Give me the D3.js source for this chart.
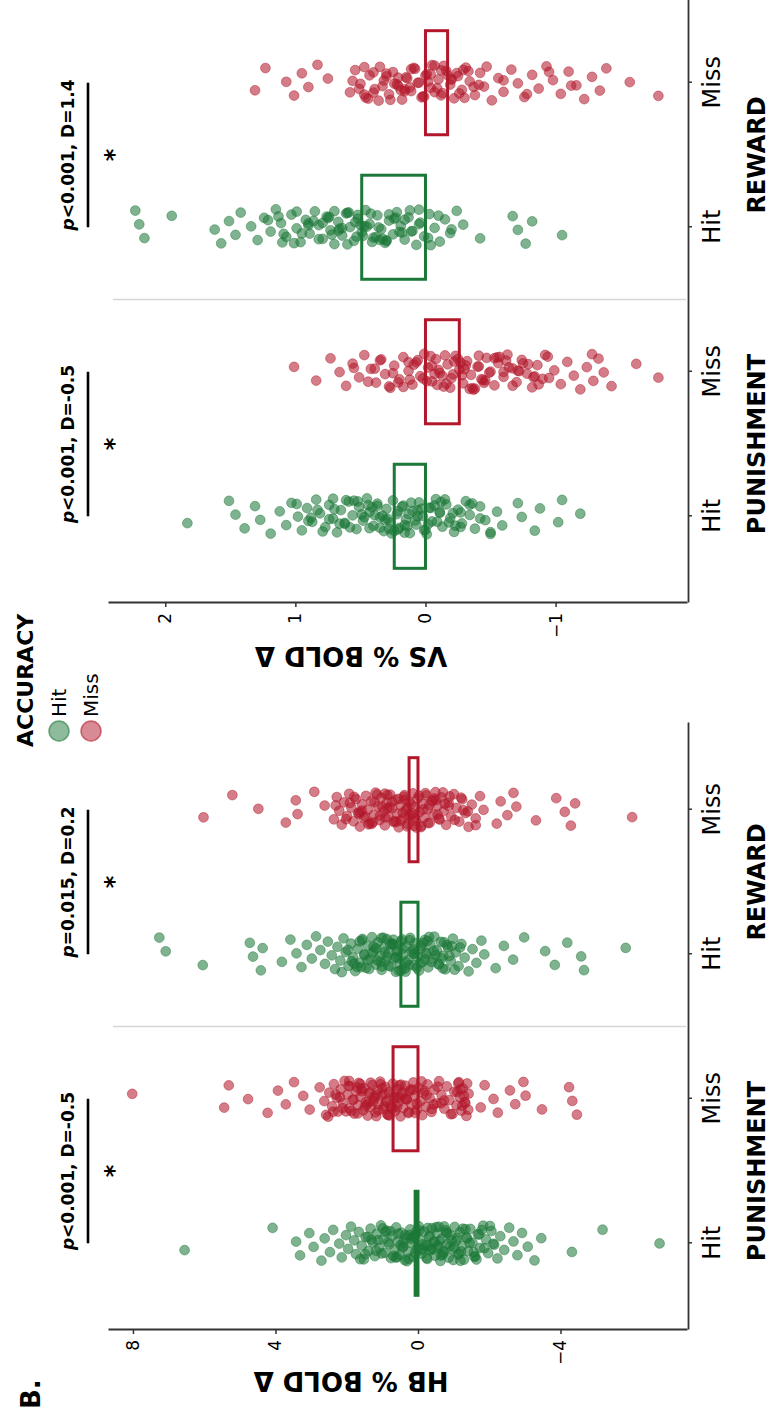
<!DOCTYPE html>
<html>
<head>
<meta charset="utf-8">
<script src="https://cdn.jsdelivr.net/npm/d3@7"></script>
<style>
  html, body { margin: 0; background: #fff; }
  svg { display: block; }
  text { font-family: "DejaVu Sans", sans-serif; fill: #000; }
</style>
</head>
<body>
<svg id="chart" width="771" height="1412"></svg>
<script>
// x categories: condition + accuracy
const conditions = ["PUNISHMENT", "REWARD"];
const accuracyLevels = ["Hit", "Miss"];
const groupKeys = ["PUNISHMENT|Hit", "PUNISHMENT|Miss", "REWARD|Hit", "REWARD|Miss"];

// HB % BOLD change, one value per dot
const hbPunishHit = [6.55, 4.08, 3.42, 3.31, 3.05, 2.93, 2.71, 2.62, 2.47, 2.38, 2.21, 2.14, 2.02, 1.96, 1.88, 1.79, 1.74, 1.66, 1.58, 1.52, 1.47, 1.39, 1.33, 1.27, 1.21, 1.16, 1.09, 1.04, 0.97, 0.93, 0.88, 0.81, 0.76, 0.72, 0.66, 0.61, 0.57, 0.52, 0.46, 0.41, 0.37, 0.33, 0.28, 0.22, 0.18, 0.13, 0.07, 0.03, -0.02, -0.06, -0.11, -0.17, -0.21, -0.26, -0.31, -0.34, -0.39, -0.44, -0.48, -0.53, -0.58, -0.63, -0.67, -0.72, -0.78, -0.83, -0.86, -0.92, -0.97, -1.03, -1.08, -1.12, -1.18, -1.24, -1.29, -1.36, -1.41, -1.47, -1.53, -1.61, -1.68, -1.74, -1.83, -1.91, -1.97, -2.06, -2.14, -2.23, -2.31, -2.42, -2.56, -2.68, -2.79, -2.92, -3.08, -3.27, -3.46, -4.32, -5.18, -6.78, 0.58, 0.24, -0.36, -0.74, 1.12, -1.15, 0.05, -0.55,
  1.62, 1.41, 1.18, 0.99, 0.84, 0.69, 0.55, 0.43, 0.31, 0.19, 0.08, -0.04, -0.14, -0.24, -0.33, -0.42, -0.51, -0.61, -0.69, -0.79, -0.89, -0.99, -1.1, -1.21, -1.33, -1.45, -1.58, -1.72, -1.86, -2.02, 1.31, 1.02, 0.77, 0.49, 0.26, 0.1, -0.08, -0.27, -0.46, -0.64, -0.82, -1.01, -1.19, -1.38, -1.57, -1.79, -2.11, 0.63, 0.36, -0.12, -0.58, -0.95, 1.48, 0.91, -0.29, -1.64, 0.15, -0.71, -1.26, 0.42];
const hbPunishMiss = [8.02, 5.44, 5.31, 4.77, 4.22, 3.93, 3.71, 3.48, 3.22, 3.04, 2.76, 2.63, 2.58, 2.49, 2.41, 2.36, 2.28, 2.24, 2.17, 2.11, 2.06, 1.98, 1.93, 1.91, 1.84, 1.79, 1.73, 1.68, 1.66, 1.61, 1.54, 1.52, 1.46, 1.41, 1.37, 1.32, 1.28, 1.23, 1.19, 1.14, 1.12, 1.06, 1.01, 0.97, 0.92, 0.88, 0.86, 0.81, 0.77, 0.71, 0.68, 0.64, 0.58, 0.55, 0.49, 0.46, 0.41, 0.36, 0.32, 0.27, 0.24, 0.18, 0.13, 0.09, 0.04, -0.02, -0.07, -0.12, -0.16, -0.22, -0.27, -0.33, -0.38, -0.46, -0.52, -0.59, -0.66, -0.74, -0.81, -0.88, -0.97, -1.02, -1.08, -1.13, -1.17, -1.22, -1.26, -1.31, -1.36, -1.42, -1.76, -1.87, -2.12, -2.24, -2.58, -2.73, -2.96, -3.02, -3.48, -4.24, -4.33, -4.46, 1.35, 0.95, 1.62, 0.52, 2.02, -1.19, -1.33,
  2.52, 2.31, 2.12, 1.95, 1.81, 1.69, 1.57, 1.44, 1.33, 1.22, 1.11, 1.0, 0.9, 0.8, 0.69, 0.59, 0.48, 0.37, 0.26, 0.15, 0.03, -0.1, -0.24, -0.39, -0.55, -0.73, -0.92, -1.1, -1.24, -1.38, 2.19, 1.87, 1.59, 1.38, 1.17, 0.96, 0.75, 0.53, 0.31, 0.08, -0.18, -0.44, -1.15, -1.29, -1.41, 1.71, 1.25, 0.84, 0.42, 1.49, 1.05, 0.62, 2.38, 0.2, -0.65, 1.93, 1.16, 0.7];
const hbRewardHit = [7.26, 7.08, 6.04, 4.72, 4.63, 4.41, 4.36, 3.82, 3.58, 3.41, 3.27, 3.12, 2.98, 2.86, 2.74, 2.61, 2.53, 2.42, 2.33, 2.26, 2.18, 2.09, 2.03, 1.95, 1.88, 1.82, 1.76, 1.69, 1.63, 1.57, 1.51, 1.46, 1.41, 1.34, 1.29, 1.23, 1.18, 1.13, 1.07, 1.02, 0.96, 0.91, 0.87, 0.82, 0.76, 0.71, 0.66, 0.62, 0.57, 0.51, 0.47, 0.42, 0.37, 0.33, 0.28, 0.22, 0.17, 0.12, 0.08, 0.02, -0.03, -0.08, -0.13, -0.19, -0.24, -0.29, -0.35, -0.41, -0.46, -0.53, -0.58, -0.64, -0.71, -0.77, -0.84, -0.92, -0.98, -1.06, -1.14, -1.22, -1.31, -1.42, -1.53, -1.64, -1.78, -1.86, -2.18, -2.41, -2.67, -2.98, -3.57, -3.84, -4.19, -4.58, -4.66, -5.83, 1.05, 0.44, -0.21, 1.71, 0.68, -0.66,
  2.14, 1.97, 1.79, 1.64, 1.5, 1.37, 1.25, 1.14, 1.03, 0.93, 0.83, 0.73, 0.63, 0.53, 0.43, 0.33, 0.23, 0.13, 0.03, -0.08, -0.19, -0.31, -0.44, -0.58, -0.73, -0.88, -1.03, -1.18, 1.86, 1.56, 1.28, 1.01, 0.78, 0.56, 0.35, 0.14, -0.06, -0.27, -0.49, -0.7, -0.95, 1.42, 0.97, 0.6, 0.24, -0.14, 0.86, 0.47, 1.18, -0.38, 0.69, 0.09, 1.6, -0.81];
const hbRewardMiss = [6.02, 5.21, 4.48, 3.71, 3.43, 3.38, 2.91, 2.62, 2.36, 2.28, 2.21, 2.14, 2.08, 1.99, 1.93, 1.87, 1.81, 1.74, 1.68, 1.63, 1.57, 1.52, 1.46, 1.41, 1.36, 1.31, 1.24, 1.19, 1.13, 1.08, 1.03, 0.97, 0.93, 0.88, 0.83, 0.78, 0.72, 0.68, 0.63, 0.58, 0.54, 0.49, 0.44, 0.39, 0.34, 0.29, 0.25, 0.19, 0.14, 0.1, 0.06, 0.01, -0.04, -0.09, -0.14, -0.18, -0.23, -0.28, -0.33, -0.39, -0.44, -0.49, -0.55, -0.61, -0.66, -0.72, -0.79, -0.86, -0.93, -1.01, -1.08, -1.16, -1.24, -1.33, -1.42, -1.51, -1.62, -1.74, -1.84, -2.21, -2.32, -2.51, -2.68, -2.76, -3.31, -3.88, -4.12, -4.29, -4.41, -6.01, 0.86, 0.31, 1.27, -0.51, 1.66, 0.04,
  2.31, 2.02, 1.79, 1.58, 1.39, 1.22, 1.07, 0.93, 0.8, 0.67, 0.55, 0.43, 0.31, 0.2, 0.09, -0.03, -0.15, -0.28, -0.41, -0.55, -0.7, -0.86, -1.03, -1.21, -1.4, -1.62, 1.91, 1.48, 1.15, 0.86, 0.61, 0.37, 0.15, -0.08, -0.32, -0.58, -0.89, -1.27, 1.3, 0.73, 0.26, -0.21, 1.0, 0.49, -0.46, 1.63, 0.11, -0.75, 0.92, 0.38];

// VS % BOLD change
const vsPunishHit = [1.83, 1.51, 1.46, 1.39, 1.31, 1.27, 1.19, 1.12, 1.07, 1.03, 0.98, 0.95, 0.91, 0.87, 0.84, 0.81, 0.77, 0.74, 0.71, 0.68, 0.65, 0.62, 0.59, 0.56, 0.53, 0.51, 0.48, 0.45, 0.43, 0.4, 0.37, 0.35, 0.32, 0.3, 0.27, 0.25, 0.22, 0.2, 0.17, 0.15, 0.12, 0.1, 0.07, 0.05, 0.02, 0.0, -0.03, -0.05, -0.08, -0.11, -0.13, -0.16, -0.19, -0.22, -0.25, -0.28, -0.31, -0.34, -0.38, -0.42, -0.46, -0.5, -0.55, -0.59, -0.71, -0.74, -0.84, -0.88, -1.02, -1.05, -1.19, 0.58, 0.44, 0.29, 0.16, 0.06, -0.02, -0.12, 0.33, 0.21, 0.41, 0.9, 0.71, -0.27, 0.14,
  0.99, 0.88, 0.79, 0.7, 0.62, 0.55, 0.49, 0.43, 0.37, 0.31, 0.26, 0.21, 0.16, 0.11, 0.06, 0.01, -0.04, -0.09, -0.15, -0.21, -0.27, -0.34, -0.42, -0.5, 0.83, 0.66, 0.52, 0.39, 0.28, 0.18, 0.08, -0.01, -0.11, -0.23, -0.36, 0.47, 0.24, 0.03, -0.18, 0.61, 0.13, 0.35, -0.07, 0.74];
const vsPunishMiss = [1.01, 0.84, 0.73, 0.66, 0.61, 0.56, 0.51, 0.47, 0.42, 0.38, 0.35, 0.31, 0.27, 0.24, 0.2, 0.17, 0.13, 0.1, 0.07, 0.04, 0.01, -0.02, -0.05, -0.08, -0.11, -0.14, -0.17, -0.2, -0.23, -0.26, -0.29, -0.32, -0.35, -0.38, -0.41, -0.44, -0.47, -0.5, -0.53, -0.56, -0.6, -0.63, -0.67, -0.7, -0.74, -0.78, -0.82, -0.86, -0.9, -0.94, -0.99, -1.04, -1.09, -1.14, -1.19, -1.24, -1.29, -1.33, -1.37, -1.43, -1.62, -1.79, -0.15, -0.3, -0.45, -0.62, -0.21, -0.36, -0.05, 0.12, -0.55, -0.72, -0.09, -0.27, -0.84, -1.28,
  0.55, 0.44, 0.34, 0.25, 0.17, 0.09, 0.02, -0.04, -0.1, -0.16, -0.22, -0.28, -0.34, -0.4, -0.46, -0.53, -0.6, -0.67, -0.75, -0.83, -0.92, 0.39, 0.21, 0.06, -0.07, -0.19, -0.31, -0.43, -0.57, -0.71, -0.87, 0.13, -0.13, -0.37, -0.64, -0.01, -0.25, -0.49, 0.28, -0.79, -0.95, -0.41];
const vsRewardHit = [2.23, 2.2, 2.16, 1.95, 1.62, 1.57, 1.51, 1.46, 1.42, 1.34, 1.29, 1.24, 1.19, 1.15, 1.11, 1.07, 1.03, 0.99, 0.96, 0.92, 0.89, 0.85, 0.82, 0.79, 0.76, 0.73, 0.7, 0.67, 0.64, 0.61, 0.58, 0.55, 0.52, 0.49, 0.46, 0.43, 0.4, 0.37, 0.34, 0.31, 0.28, 0.25, 0.22, 0.19, 0.16, 0.13, 0.1, 0.07, 0.04, 0.01, -0.03, -0.07, -0.11, -0.15, -0.19, -0.24, -0.29, -0.42, -0.67, -0.71, -0.77, -0.82, -1.05, 0.6, 0.45, 0.3, 0.75, 0.2, 0.05, 0.9, 0.38, 0.52, 0.66, 1.1,
  1.21, 1.09, 0.99, 0.9, 0.82, 0.74, 0.67, 0.6, 0.54, 0.48, 0.42, 0.36, 0.3, 0.24, 0.18, 0.12, 0.05, -0.02, -0.1, -0.2, 1.01, 0.86, 0.72, 0.59, 0.47, 0.35, 0.23, 0.11, -0.04, 0.79, 0.53, 0.28, 0.64, 0.41, 0.16, 0.95, 0.7, 0.5, 0.33, 1.13];
const vsRewardMiss = [1.31, 1.23, 1.07, 1.01, 0.95, 0.9, 0.83, 0.75, 0.58, 0.54, 0.5, 0.46, 0.43, 0.39, 0.35, 0.32, 0.28, 0.25, 0.21, 0.18, 0.15, 0.11, 0.08, 0.05, 0.02, -0.01, -0.04, -0.07, -0.1, -0.13, -0.16, -0.19, -0.22, -0.25, -0.28, -0.31, -0.34, -0.38, -0.42, -0.45, -0.51, -0.56, -0.6, -0.66, -0.71, -0.76, -0.82, -0.87, -0.93, -0.98, -1.04, -1.1, -1.16, -1.22, -1.28, -1.34, -1.39, -1.57, -1.79, 0.3, 0.12, -0.05, -0.2, 0.4, -0.12, 0.22, -0.3, 0.0, 0.16, 0.47,
  0.56, 0.47, 0.4, 0.33, 0.27, 0.21, 0.16, 0.11, 0.06, 0.01, -0.04, -0.09, -0.14, -0.2, -0.26, -0.33, -0.41, 0.44, 0.3, 0.19, 0.09, -0.02, -0.12, -0.24, -0.37, 0.36, 0.14, -0.07, -0.29, 0.24, 0.03, -0.17, 0.51, -0.47, -0.6, -0.78, -0.95, -1.12];

// group means (outlined bars)
const hbMeans = [0.08, 0.7, 0.48, 0.25];
const vsMeans = [0.24, -0.26, 0.49, -0.17];

const hbTicks = [8, 4, 0, -4];
const vsTicks = [2, 1, 0, -1];

// Hit vs Miss comparison text per condition
const hbStats = [", D=-0.5", ", D=0.2"];
const hbP = ["<0.001", "=0.015"];
const vsStats = [", D=-0.5", ", D=1.4"];
const vsP = ["<0.001", "<0.001"];

const colors = { Hit: "#1B7837", Miss: "#B2182B" };

// the figure is laid out upright (1412 x 771) and then turned a quarter turn to the left
const W = 1412;
const plotTop = 108;
const plotBottom = 687;
const panelWidth = 607;

const svg = d3.select("#chart");
const root = svg.append("g").attr("transform", `translate(0,${W}) rotate(-90)`);

const panels = [
  {
    title: "HB % BOLD \u0394",
    left: 82,
    domain: [-7.55, 8.7],
    ticks: hbTicks,
    series: [hbPunishHit, hbPunishMiss, hbRewardHit, hbRewardMiss],
    means: hbMeans,
    pText: hbP,
    statText: hbStats,
    titleX: 40,
  },
  {
    title: "VS % BOLD \u0394",
    left: 809,
    domain: [-2.01, 2.44],
    ticks: vsTicks,
    series: [vsPunishHit, vsPunishMiss, vsRewardHit, vsRewardMiss],
    means: vsMeans,
    pText: vsP,
    statText: vsStats,
    titleX: 765,
  },
];

const jitter = (i) => (((i * 0.6180339887 + 0.31) % 1) - 0.5) * 36;

panels.forEach((cfg) => {
  const x = d3
    .scalePoint()
    .domain(groupKeys)
    .range([cfg.left, cfg.left + panelWidth])
    .padding(0.6);
  const y = d3.scaleLinear().domain(cfg.domain).range([plotBottom, plotTop]);
  const step = x.step();
  const g = root.append("g");

  // faint divider between the two conditions
  const divX = (x(groupKeys[1]) + x(groupKeys[2])) / 2;
  g.append("line")
    .attr("x1", divX)
    .attr("x2", divX)
    .attr("y1", plotTop + 5)
    .attr("y2", plotBottom - 1)
    .attr("stroke", "#d6d6d6")
    .attr("stroke-width", 1.5);

  cfg.series.forEach((vals, gi) => {
    const key = groupKeys[gi];
    const col = colors[key.split("|")[1]];
    g.append("g")
      .selectAll("circle")
      .data(vals)
      .join("circle")
      .attr("cx", (d, i) => x(key) + jitter(i + gi * 7))
      .attr("cy", (d) => y(d))
      .attr("r", 4.9)
      .attr("fill", col)
      .attr("fill-opacity", 0.56)
      .attr("stroke", col)
      .attr("stroke-opacity", 0.45)
      .attr("stroke-width", 1);
  });

  // mean bars, outline only
  const barW = step * 0.72;
  g.append("g")
    .selectAll("rect")
    .data(cfg.means)
    .join("rect")
    .attr("x", (d, i) => x(groupKeys[i]) - barW / 2)
    .attr("y", (d) => y(Math.max(0, d)))
    .attr("width", barW)
    .attr("height", (d) => Math.abs(y(d) - y(0)))
    .attr("fill", "none")
    .attr("stroke", (d, i) => colors[groupKeys[i].split("|")[1]])
    .attr("stroke-width", 3);

  // value axis
  const yAxis = g
    .append("g")
    .attr("transform", `translate(${cfg.left},0)`)
    .call(
      d3.axisLeft(y).tickValues(cfg.ticks).tickSize(4).tickSizeOuter(0).tickPadding(6).tickFormat(d3.format("d"))
    );
  yAxis.select(".domain").attr("stroke", "#333").attr("stroke-width", 1.8);
  yAxis.selectAll(".tick line").attr("stroke", "#333").attr("stroke-width", 1.5);
  yAxis.selectAll(".tick text").attr("font-size", 17).attr("fill", "#3a3a3a").style("font-family", '"DejaVu Sans", sans-serif');

  // category axis
  const xAxis = g
    .append("g")
    .attr("transform", `translate(0,${plotBottom + 1})`)
    .call(d3.axisBottom(x).tickSize(4).tickSizeOuter(0).tickFormat((k) => k.split("|")[1]));
  xAxis.select(".domain").attr("stroke", "#333").attr("stroke-width", 1.8);
  xAxis.selectAll(".tick line").attr("stroke", "#333").attr("stroke-width", 1.5);
  xAxis
    .selectAll(".tick text")
    .attr("y", 32)
    .attr("dy", null)
    .attr("font-size", 24)
    .attr("fill", "#111")
    .style("font-family", '"DejaVu Sans", sans-serif');

  conditions.forEach((cond, ci) => {
    const xa = x(`${cond}|Hit`);
    const xb = x(`${cond}|Miss`);
    const mid = (xa + xb) / 2;

    g.append("text")
      .attr("x", mid)
      .attr("y", 765)
      .attr("text-anchor", "middle")
      .attr("font-size", 24)
      .attr("font-weight", "bold")
      .text(cond);

    const label = g
      .append("text")
      .attr("x", mid)
      .attr("y", 74)
      .attr("text-anchor", "middle")
      .attr("font-size", 17)
      .attr("font-weight", "bold");
    label.append("tspan").attr("font-style", "italic").text("p");
    label.append("tspan").text(cfg.pText[ci] + cfg.statText[ci]);

    g.append("line")
      .attr("x1", xa)
      .attr("x2", xb)
      .attr("y1", 88)
      .attr("y2", 88)
      .attr("stroke", "#000")
      .attr("stroke-width", 2.6);

    g.append("text")
      .attr("x", mid)
      .attr("y", 122)
      .attr("text-anchor", "middle")
      .attr("font-size", 24)
      .attr("font-weight", "bold")
      .text("*");
  });

  g.append("text")
    .attr("transform", `translate(${cfg.titleX},351) rotate(-90)`)
    .attr("text-anchor", "middle")
    .attr("font-size", 26)
    .attr("font-weight", "bold")
    .text(cfg.title);
});

// legend
const legend = root.append("g");
legend
  .append("text")
  .attr("x", 665)
  .attr("y", 33)
  .attr("font-size", 22)
  .attr("font-weight", "bold")
  .text("ACCURACY");
accuracyLevels.forEach((lvl, i) => {
  legend
    .append("circle")
    .attr("cx", 681)
    .attr("cy", 59 + i * 32)
    .attr("r", 10)
    .attr("fill", colors[lvl])
    .attr("fill-opacity", 0.5)
    .attr("stroke", colors[lvl])
    .attr("stroke-opacity", 0.6)
    .attr("stroke-width", 1.5);
  legend
    .append("text")
    .attr("x", 695)
    .attr("y", 66 + i * 32)
    .attr("font-size", 20)
    .text(lvl);
});

root
  .append("text")
  .attr("x", 3)
  .attr("y", 40)
  .attr("font-size", 26)
  .attr("font-weight", "bold")
  .text("B.");
</script>
</body>
</html>
